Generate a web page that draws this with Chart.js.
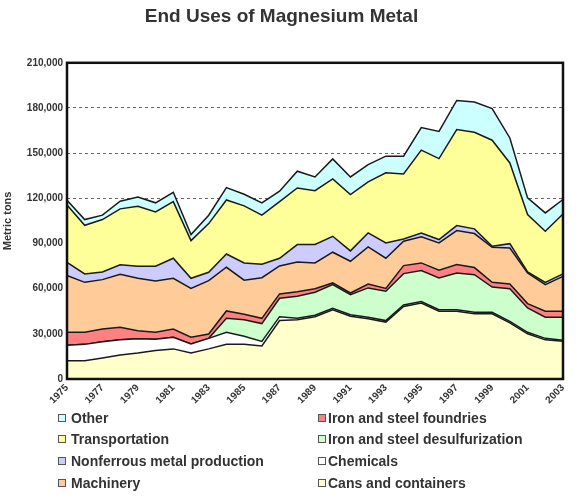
<!DOCTYPE html>
<html>
<head>
<meta charset="utf-8">
<script src="https://cdn.jsdelivr.net/npm/chart.js@4/dist/chart.umd.min.js"></script>
<style>
  body { margin: 0; background: #fff; font-family: 'Liberation Sans', Arial, sans-serif; }
  #wrap { position: relative; width: 585px; height: 500px; }
  #legend .item { position: absolute; font-weight: bold; font-size: 14px; color: #333; white-space: nowrap; line-height: 16px; }
  #legend .box { position: absolute; width: 6px; height: 6px; border: 1px solid #555; }
</style>
</head>
<body>
<div id="wrap">
  <canvas id="chart" width="585" height="500"></canvas>
  <div id="legend"></div>
</div>
<script>
const years = ['1975','1976','1977','1978','1979','1980','1981','1982','1983','1984','1985','1986','1987','1988','1989',
               '1990','1991','1992','1993','1994','1995','1996','1997','1998','1999','2000','2001','2002','2003'];

// metric tons per layer, bottom to top
const cans = [12200,12200,14000,16000,17300,19000,20000,17300,20000,23000,23000,22000,38800,39400,41300,
              46000,41700,40000,37800,48200,50400,45000,45000,43300,43300,37300,30000,26000,25000];
const chemicals = [10200,10800,10800,10000,9500,7400,7700,6000,7000,8000,5400,3000,2600,1000,1000,
                   1000,1000,1000,1000,1000,1000,1000,1000,1000,1000,1000,1000,1000,700];
const desulfurization = [0,0,0,0,0,0,0,0,0,9300,11000,11800,12200,14600,15300,
                         15700,13300,19500,19500,20800,20600,21100,24400,25000,16800,21700,16200,14000,15300];
const foundries = [8600,8000,8400,8300,5300,4600,5500,4400,2900,4900,3600,3500,2900,3000,2400,
                   1100,1100,2600,1900,5300,5100,5100,5600,4700,3100,3100,2900,4000,4000];
const machinery = [37700,33200,32800,35300,34800,34100,33700,32500,35400,29000,22600,27000,18600,19700,17100,
                   20400,21100,24600,20000,16200,17300,18200,22600,22600,23300,23900,20300,17700,23200];
const nonferrous = [8800,5600,5100,6200,8000,9800,13300,6700,5600,8800,11500,8900,5100,11600,12200,
                    10600,6900,9300,10200,1500,2600,2200,3300,3100,700,2900,700,1500,1600];
const transportation = [38100,32300,34800,37200,39800,36100,37600,25000,32300,35900,37900,32600,37600,37600,35800,
                        38100,37400,33900,46500,43200,55000,53800,63800,64200,70400,53600,38100,33900,39800];
const other = [3100,3800,2900,5100,6200,6000,6200,4000,5600,8200,7700,8200,6900,11100,9100,
               13300,11700,11500,11100,11800,15000,18000,19300,20100,21000,16600,11100,12200,9600];

const yTicks = [0, 30000, 60000, 90000, 120000, 150000, 180000, 210000];

const layers = [
  { label: 'Cans and containers', data: cans, color: '#ffffcc' },
  { label: 'Chemicals', data: chemicals, color: '#ffffff' },
  { label: 'Iron and steel desulfurization', data: desulfurization, color: '#ccffcc' },
  { label: 'Iron and steel foundries', data: foundries, color: '#ff8080' },
  { label: 'Machinery', data: machinery, color: '#ffcc99' },
  { label: 'Nonferrous metal production', data: nonferrous, color: '#ccccff' },
  { label: 'Transportation', data: transportation, color: '#ffff99' },
  { label: 'Other', data: other, color: '#ccffff' }
];

const frame = {
  id: 'frame',
  afterDraw(chart) {
    const a = chart.chartArea, ctx = chart.ctx;
    ctx.save();
    ctx.strokeStyle = '#111';
    ctx.lineWidth = 2.5;
    ctx.strokeRect(a.left, a.top, a.right - a.left, a.bottom - a.top);
    ctx.restore();
  }
};

new Chart(document.getElementById('chart'), {
  type: 'line',
  data: {
    labels: years,
    datasets: layers.map((l, i) => ({
      label: l.label,
      data: l.data,
      backgroundColor: l.color,
      borderColor: '#1a1a1a',
      borderWidth: 1.5,
      pointRadius: 0,
      tension: 0,
      fill: i === 0 ? 'origin' : '-1'
    }))
  },
  options: {
    responsive: false,
    animation: false,
    layout: { padding: { right: 22 } },
    plugins: {
      legend: { display: false },
      tooltip: { enabled: false },
      title: {
        display: true,
        text: 'End Uses of Magnesium Metal',
        color: '#333',
        font: { size: 19, weight: 'bold', family: "'Liberation Sans', Arial, sans-serif" },
        padding: { top: 5, bottom: 35 }
      }
    },
    scales: {
      x: {
        grid: { display: false, drawTicks: false },
        border: { display: false },
        afterFit: s => { s.height = 121; },
        ticks: {
          autoSkip: false,
          maxRotation: 45,
          minRotation: 45,
          padding: 3,
          color: '#333',
          font: { size: 10, weight: 'bold', family: "'Liberation Sans', Arial, sans-serif" },
          callback: (v, i) => i % 2 === 0 ? years[i] : null
        }
      },
      y: {
        stacked: true,
        min: 0,
        max: 210000,
        afterFit: s => { s.width = 67; },
        afterBuildTicks: s => { s.ticks = yTicks.map(v => ({ value: v })); },
        border: { display: false, dash: [3, 3] },
        grid: { color: '#666', drawTicks: false, lineWidth: 1 },
        title: {
          display: true,
          text: 'Metric tons',
          color: '#333',
          font: { size: 11, weight: 'bold', family: "'Liberation Sans', Arial, sans-serif" },
          padding: { top: 1, bottom: 0 }
        },
        ticks: {
          padding: 4,
          color: '#333',
          font: { size: 10, weight: 'bold', family: "'Liberation Sans', Arial, sans-serif" },
          callback: v => v.toLocaleString('en-US')
        }
      }
    }
  },
  plugins: [frame]
});

// two column legend, column-major like the original
const legendCols = [
  { box: 58, text: 71, items: ['Other', 'Transportation', 'Nonferrous metal production', 'Machinery'] },
  { box: 318, text: 328, items: ['Iron and steel foundries', 'Iron and steel desulfurization', 'Chemicals', 'Cans and containers'] }
];
const legendRows = [418, 439, 461, 483];
const legend = document.getElementById('legend');
legendCols.forEach(col => {
  col.items.forEach((name, r) => {
    const layer = layers.find(l => l.label === name);
    const box = document.createElement('div');
    box.className = 'box';
    box.style.left = col.box + 'px';
    box.style.top = (legendRows[r] - 4) + 'px';
    box.style.background = layer.color;
    legend.appendChild(box);
    const txt = document.createElement('div');
    txt.className = 'item';
    txt.style.left = col.text + 'px';
    txt.style.top = (legendRows[r] - 8) + 'px';
    txt.textContent = name;
    legend.appendChild(txt);
  });
});
</script>
</body>
</html>
